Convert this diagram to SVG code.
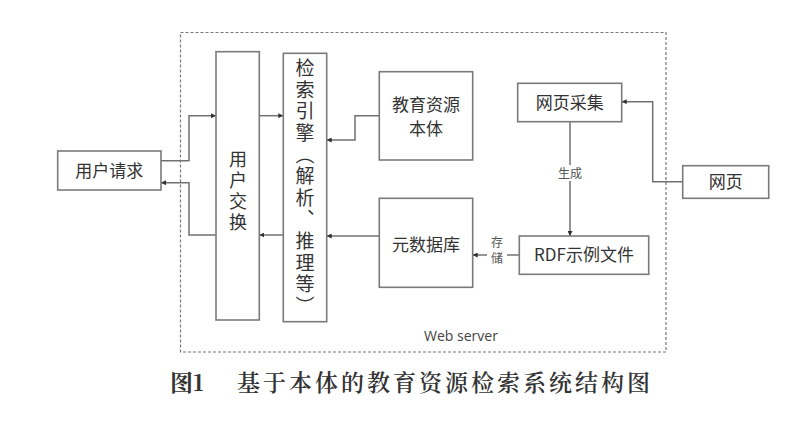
<svg xmlns="http://www.w3.org/2000/svg" width="800" height="430" viewBox="0 0 800 430">
<style>
.box{fill:#fff;stroke:#7a7a7a;stroke-width:1.6}
.t{font-family:"Noto Sans CJK SC","Liberation Sans",sans-serif;font-size:17px;fill:#333;text-anchor:middle}
.v{writing-mode:tb;font-family:"Noto Sans CJK SC","Liberation Sans",sans-serif;font-size:18px;fill:#333;text-anchor:middle}
.c{fill:none;stroke:#707070;stroke-width:1.5}
.s{font-family:"Noto Sans CJK SC","Liberation Sans",sans-serif;font-size:12px;fill:#555;text-anchor:middle}
.cap{font-family:"Noto Serif CJK SC","Noto Sans CJK SC","Liberation Serif",serif;font-size:23px;fill:#333}
</style>
<defs>
<marker id="a" viewBox="0 0 6 6" refX="6" refY="3" markerWidth="5" markerHeight="5" orient="auto" markerUnits="userSpaceOnUse">
<path d="M0,0 L6,3 L0,6 z" fill="#333"/>
</marker>
</defs>
<rect width="800" height="430" fill="#fff"/>
<rect id="webserver" x="180.5" y="32.5" width="485.5" height="319.5" fill="none" stroke="#777" stroke-width="1.2" stroke-dasharray="3,2"/>
<text x="461" y="341" font-family="'Open Sans','Liberation Sans',sans-serif" font-size="14" fill="#444" text-anchor="middle">Web server</text>
<g id="connectors">
<polyline class="c" points="161,160.7 189,160.7 189,115.7 216,115.7" marker-end="url(#a)"/>
<polyline class="c" points="216,235 189,235 189,182.7 161,182.7" marker-end="url(#a)"/>
<polyline class="c" points="259.3,115.7 283.3,115.7" marker-end="url(#a)"/>
<polyline class="c" points="283.3,235 259.3,235" marker-end="url(#a)"/>
<polyline class="c" points="379.3,115.7 355,115.7 355,140 326.7,140" marker-end="url(#a)"/>
<polyline class="c" points="379.3,236 326.7,236" marker-end="url(#a)"/>
<polyline class="c" points="682.7,181.7 652.7,181.7 652.7,101.7 621.7,101.7" marker-end="url(#a)"/>
<polyline class="c" points="570,121.7 570,236" marker-end="url(#a)"/>
<rect x="552" y="165" width="36" height="16" fill="#fff"/>
<text class="s" x="570" y="178">生成</text>
<polyline class="c" points="519.3,255 507,255"/>
<polyline class="c" points="487,255 472.7,255" marker-end="url(#a)"/>
<text class="s" x="497" y="247">存</text>
<text class="s" x="497" y="263">储</text>
</g>
<g id="n-request">
<rect class="box" x="57.7" y="151" width="103.3" height="39"/>
<text class="t" x="109.3" y="176.5">用户请求</text>
</g>
<g id="n-exchange">
<rect class="box" x="216" y="51.7" width="43.3" height="268.3"/>
<text class="v" x="238" y="192" letter-spacing="3">用户交换</text>
</g>
<g id="n-engine">
<rect class="box" x="283.3" y="53.3" width="43.4" height="268.4"/>
<text class="v" x="305" y="188" style="font-size:19px;letter-spacing:2.6px">检索引擎（解析、推理等）</text>
</g>
<g id="n-ontology">
<rect class="box" x="379.3" y="71.7" width="93.4" height="88.3"/>
<text class="t" x="426" y="111">教育资源</text>
<text class="t" x="426" y="135">本体</text>
</g>
<g id="n-metadb">
<rect class="box" x="379.3" y="198.3" width="93.4" height="89"/>
<text class="t" x="426" y="251">元数据库</text>
</g>
<g id="n-crawl">
<rect class="box" x="517.7" y="83.3" width="104" height="38.4"/>
<text class="t" x="569.7" y="108.5">网页采集</text>
</g>
<g id="n-rdf">
<rect class="box" x="519.3" y="236" width="129.4" height="38.3"/>
<text class="t" x="584" y="261">RDF示例文件</text>
</g>
<g id="n-web">
<rect class="box" x="682.7" y="165.7" width="86" height="32.6"/>
<text class="t" x="725.7" y="188">网页</text>
</g>
<text class="cap" x="170" y="391" font-weight="bold">图1</text>
<text class="cap" x="237" y="391" font-weight="600" letter-spacing="3">基于本体的教育资源检索系统结构图</text>
</svg>
